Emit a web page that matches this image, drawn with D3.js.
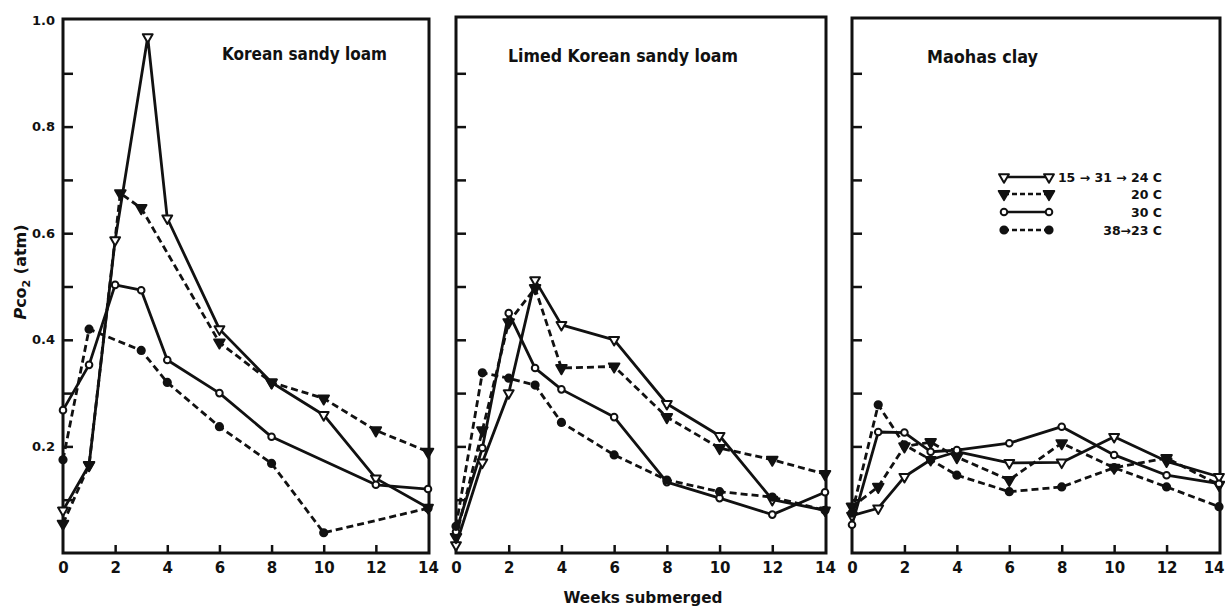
<!DOCTYPE html>
<html><head><meta charset="utf-8">
<script src="https://cdn.jsdelivr.net/npm/d3@7"></script>
<style>
html,body{margin:0;padding:0;background:#fff;}
svg{display:block;}
text{font-family:"DejaVu Sans","Liberation Sans",sans-serif;fill:#111;}
</style></head>
<body>
<svg id="chart" width="1225" height="608"></svg>
<script>
// ---------- data ----------
const panelTitles = ["Korean sandy loam", "Limed Korean sandy loam", "Maohas clay"];
const seriesNames = ["15 \u2192 31 \u2192 24 C", "20 C", "30 C", "38\u219223 C"];
const xTickValues = [0, 2, 4, 6, 8, 10, 12, 14];
const yTickValues = [0.1, 0.2, 0.3, 0.4, 0.5, 0.6, 0.7, 0.8, 0.9, 1.0];
const yTickLabels = {"0.2": "0.2", "0.4": "0.4", "0.6": "0.6", "0.8": "0.8", "1": "1.0"};

// Korean sandy loam
const korean_15_31_24_weeks = [0, 1, 2, 3.25, 4, 6, 8, 10, 12, 14];
const korean_15_31_24 = [0.08, 0.165, 0.587, 0.968, 0.628, 0.42, 0.32, 0.259, 0.14, 0.085];
const korean_20_weeks = [0, 1, 2.2, 3, 6, 8, 10, 12, 14];
const korean_20 = [0.055, 0.165, 0.675, 0.647, 0.395, 0.32, 0.29, 0.23, 0.19];
const korean_30_weeks = [0, 1, 2, 3, 4, 6, 8, 12, 14];
const korean_30 = [0.268, 0.353, 0.503, 0.493, 0.362, 0.30, 0.218, 0.128, 0.12];
const korean_38_23_weeks = [0, 1, 3, 4, 6, 8, 10, 14];
const korean_38_23 = [0.175, 0.42, 0.38, 0.32, 0.237, 0.168, 0.038, 0.084];

// Limed Korean sandy loam
const limed_weeks = [0, 1, 2, 3, 4, 6, 8, 10, 12, 14];
const limed_15_31_24 = [0.015, 0.17, 0.30, 0.512, 0.428, 0.40, 0.28, 0.22, 0.10, 0.08];
const limed_20 = [0.03, 0.23, 0.433, 0.497, 0.347, 0.35, 0.255, 0.197, 0.175, 0.148];
const limed_30 = [0.04, 0.197, 0.45, 0.347, 0.307, 0.255, 0.133, 0.103, 0.072, 0.114];
const limed_38_23 = [0.05, 0.338, 0.328, 0.315, 0.245, 0.184, 0.137, 0.115, 0.105, 0.08];

// Maohas clay
const maohas_weeks = [0, 1, 2, 3, 4, 6, 8, 10, 12, 14];
const maohas_15_31_24 = [0.07, 0.084, 0.143, 0.175, 0.19, 0.169, 0.17, 0.218, 0.172, 0.143];
const maohas_20 = [0.087, 0.124, 0.2, 0.208, 0.18, 0.137, 0.206, 0.16, 0.178, 0.128];
const maohas_30 = [0.053, 0.227, 0.226, 0.19, 0.193, 0.206, 0.237, 0.184, 0.146, 0.13];
const maohas_38_23 = [0.075, 0.278, 0.203, 0.175, 0.146, 0.115, 0.124, 0.16, 0.124, 0.087];

// ---------- assemble ----------
const panelData = [
  [[korean_15_31_24_weeks, korean_15_31_24], [korean_20_weeks, korean_20], [korean_30_weeks, korean_30], [korean_38_23_weeks, korean_38_23]],
  [[limed_weeks, limed_15_31_24], [limed_weeks, limed_20], [limed_weeks, limed_30], [limed_weeks, limed_38_23]],
  [[maohas_weeks, maohas_15_31_24], [maohas_weeks, maohas_20], [maohas_weeks, maohas_30], [maohas_weeks, maohas_38_23]]
];
const styles = [
  {dash: null, shape: "tri", filled: false},
  {dash: "7,4", shape: "tri", filled: true},
  {dash: null, shape: "circle", filled: false},
  {dash: "7,4", shape: "circle", filled: true}
];

const svg = d3.select("#chart");
const ink = "#111";
const panelBox = [
  {left: 63, right: 429, top: 19},
  {left: 456, right: 826, top: 17},
  {left: 852, right: 1220, top: 18}
];
const bottom = 553;
const y = d3.scaleLinear().domain([0, 1]).range([bottom, 20]);

function drawMarker(g, cx, cy, st) {
  if (st.shape === "circle") {
    g.append("circle").attr("cx", cx).attr("cy", cy).attr("r", st.filled ? 3.6 : 3.3)
      .attr("fill", st.filled ? ink : "#fff").attr("stroke", ink).attr("stroke-width", 2);
  } else {
    const sym = d3.symbol().type(d3.symbolTriangle).size(st.filled ? 48 : 42);
    g.append("path").attr("d", sym()).attr("transform", `translate(${cx},${cy}) rotate(180)`)
      .attr("fill", st.filled ? ink : "#fff").attr("stroke", ink).attr("stroke-width", 2)
      .attr("stroke-linejoin", "round");
  }
}

panelBox.forEach((pb, pi) => {
  const x = d3.scaleLinear().domain([0, 14]).range([pb.left, pb.right - 1]);
  const g = svg.append("g");

  // frame
  g.append("rect").attr("x", pb.left).attr("y", pb.top)
    .attr("width", pb.right - pb.left).attr("height", bottom - pb.top)
    .attr("fill", "none").attr("stroke", ink).attr("stroke-width", 3);

  // x axis
  const xa = g.append("g").attr("transform", `translate(0,${bottom})`)
    .call(d3.axisBottom(x).tickValues(xTickValues).tickSize(-8).tickPadding(9).tickFormat(d3.format("d")));
  xa.select(".domain").remove();
  xa.selectAll(".tick line").attr("stroke", ink).attr("stroke-width", 2.5)
    .filter(d => d === 0 || d === 14).remove();
  xa.selectAll(".tick text").attr("font-size", 15).attr("font-weight", "bold").attr("fill", ink)
    .attr("font-family", "DejaVu Sans, sans-serif");
  if (pi === 2) {
    // keep the last label inside the window
    xa.selectAll(".tick text").filter(d => d === 14).attr("text-anchor", "end").attr("dx", 5);
  }

  // y axis
  const ya = g.append("g").attr("transform", `translate(${pb.left},0)`)
    .call(d3.axisLeft(y).tickValues(yTickValues).tickSize(-10).tickPadding(8)
      .tickFormat(d => pi === 0 ? (yTickLabels[String(+d.toFixed(1))] || "") : ""));
  ya.select(".domain").remove();
  ya.selectAll(".tick line").attr("stroke", ink).attr("stroke-width", 2.5)
    .filter(d => d >= 1).remove();
  ya.selectAll(".tick text").attr("font-size", 13).attr("font-weight", "bold").attr("fill", ink)
    .attr("font-family", "DejaVu Sans, sans-serif");

  // series lines
  const line = d3.line().x(d => x(d[0])).y(d => y(d[1]));
  panelData[pi].forEach((ser, si) => {
    const st = styles[si];
    const pts = ser[0].map((w, i) => [w, ser[1][i]]);
    g.append("path").datum(pts).attr("d", line).attr("fill", "none")
      .attr("stroke", ink).attr("stroke-width", 2.8)
      .attr("stroke-dasharray", st.dash).attr("stroke-linejoin", "round");
  });
  panelData[pi].forEach((ser, si) => {
    const st = styles[si];
    ser[0].forEach((w, i) => drawMarker(g, x(w), y(ser[1][i]), st));
  });
});

// panel titles
const titlePos = [
  {x: 222, y: 60, len: 165},
  {x: 508, y: 62, len: 230},
  {x: 927, y: 63, len: 111}
];
panelTitles.forEach((t, i) => {
  svg.append("text").attr("x", titlePos[i].x).attr("y", titlePos[i].y)
    .attr("font-size", 17).attr("font-weight", "bold")
    .attr("textLength", titlePos[i].len).attr("lengthAdjust", "spacingAndGlyphs")
    .text(t);
});

// legend
const legRows = [177, 194, 212, 230];
seriesNames.forEach((name, i) => {
  const st = styles[i];
  const g = svg.append("g");
  g.append("line").attr("x1", 1004).attr("x2", 1049).attr("y1", legRows[i]).attr("y2", legRows[i])
    .attr("stroke", ink).attr("stroke-width", 2.6).attr("stroke-dasharray", st.dash ? "5,3" : null);
  drawMarker(g, 1004, legRows[i], st);
  drawMarker(g, 1049, legRows[i], st);
  g.append("text").attr("x", 1162).attr("y", legRows[i] + 5)
    .attr("text-anchor", "end").attr("font-size", 12.5).attr("font-weight", "bold")
    .text(name);
});

// axis labels
svg.append("text").attr("x", 643).attr("y", 603).attr("text-anchor", "middle")
  .attr("font-size", 16).attr("font-weight", "bold")
  .attr("textLength", 159).attr("lengthAdjust", "spacingAndGlyphs")
  .text("Weeks submerged");

const yl = svg.append("text").attr("transform", "translate(26,272) rotate(-90)")
  .attr("text-anchor", "middle").attr("font-size", 16).attr("font-weight", "bold");
yl.append("tspan").attr("font-style", "italic").text("P");
yl.append("tspan").text("co");
yl.append("tspan").attr("font-size", 11).attr("dy", 4).text("2");
yl.append("tspan").attr("dy", -4).text(" (atm)");
</script>
</body></html>
